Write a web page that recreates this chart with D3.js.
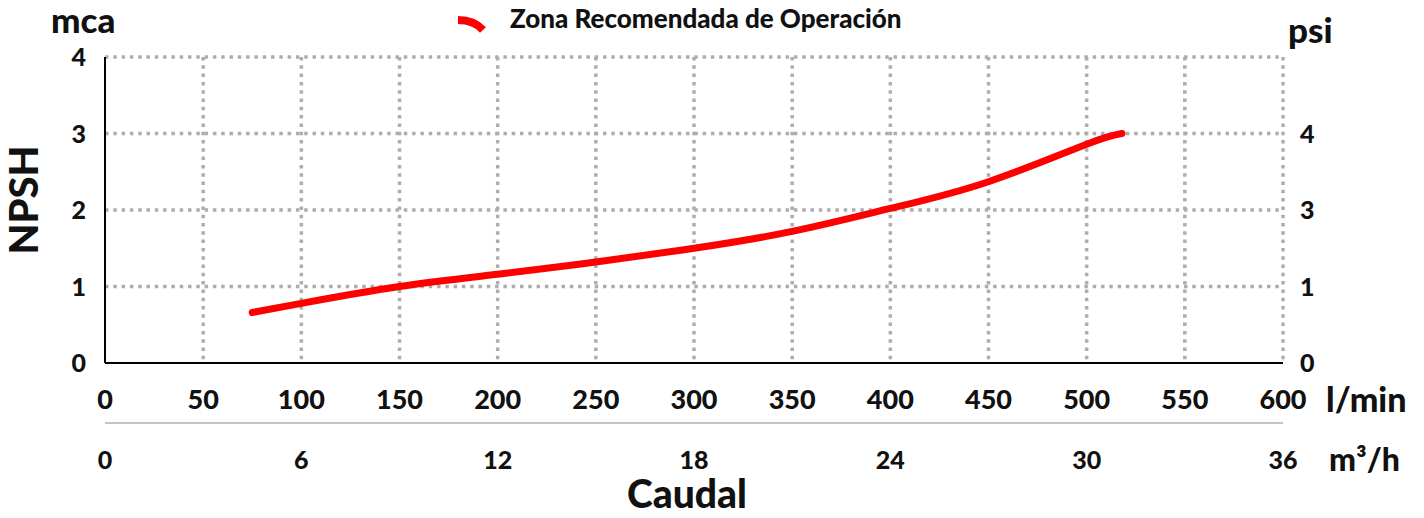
<!DOCTYPE html>
<html>
<head>
<meta charset="utf-8">
<script src="https://cdn.jsdelivr.net/npm/d3@7"></script>
<style>
  body { margin: 0; background: #fff; }
  text { font-family: Lato, "Open Sans", sans-serif; font-weight: 900; fill: #111; }
</style>
</head>
<body>
<svg id="chart" width="1424" height="518"></svg>
<script>
// data
const flowLmin = [75, 100, 150, 200, 250, 300, 350, 400, 450, 500, 518];
const npshMca = [0.66, 0.78, 1.0, 1.16, 1.32, 1.5, 1.72, 2.02, 2.37, 2.86, 3.0];
const xTicks = [0, 50, 100, 150, 200, 250, 300, 350, 400, 450, 500, 550, 600];
const m3hTicks = [0, 6, 12, 18, 24, 30, 36];
const mcaTicks = [0, 1, 2, 3, 4];
const psiLabels = ["0", "1", "3", "4"]; // shown against mca gridlines 0..3

const svg = d3.select("#chart");
const plotLeft = 105, plotRight = 1283, plotTop = 57, plotBottom = 363;

const x = d3.scaleLinear().domain([0, 600]).range([plotLeft, plotRight]);
const x2 = d3.scaleLinear().domain([0, 36]).range([plotLeft, plotRight]);
const y = d3.scaleLinear().domain([0, 4]).range([plotBottom, plotTop]);

//----------------------------------------------------------------------------------
// grid

const grid = svg.append("g")
    .attr("stroke", "#adadad")
    .attr("stroke-width", 3.5)
    .attr("stroke-dasharray", "3.5,4.8");

grid.selectAll(".hgrid")
    .data(mcaTicks.filter(d => d > 0))
    .join("line")
    .attr("x1", plotLeft).attr("x2", plotRight)
    .attr("y1", d => y(d)).attr("y2", d => y(d));

grid.selectAll(".vgrid")
    .data(xTicks.filter(d => d > 0))
    .join("line")
    .attr("x1", d => x(d)).attr("x2", d => x(d))
    .attr("y1", plotTop).attr("y2", plotBottom);

// axis lines
svg.append("line")
    .attr("x1", plotLeft).attr("x2", plotLeft).attr("y1", plotTop).attr("y2", plotBottom)
    .attr("stroke", "#000").attr("stroke-width", 2);
svg.append("line")
    .attr("x1", plotLeft).attr("x2", plotRight).attr("y1", plotBottom).attr("y2", plotBottom)
    .attr("stroke", "#000").attr("stroke-width", 2);
svg.append("line")
    .attr("x1", plotLeft).attr("x2", plotRight).attr("y1", 423).attr("y2", 423)
    .attr("stroke", "#c4c4c4").attr("stroke-width", 2);

//----------------------------------------------------------------------------------
// tick labels

svg.selectAll(".ylab")
    .data(mcaTicks)
    .join("text")
    .attr("x", 86).attr("y", d => y(d) + 9)
    .attr("text-anchor", "end")
    .attr("font-size", 25)
    .text(d => d);

svg.selectAll(".psilab")
    .data(psiLabels)
    .join("text")
    .attr("x", 1300).attr("y", (d, i) => y(i) + 9)
    .attr("font-size", 25)
    .text(d => d);

svg.selectAll(".xlab")
    .data(xTicks)
    .join("text")
    .attr("x", d => x(d)).attr("y", 409)
    .attr("text-anchor", "middle")
    .attr("font-size", 27)
    .text(d => d);

svg.selectAll(".x2lab")
    .data(m3hTicks)
    .join("text")
    .attr("x", d => x2(d)).attr("y", 469)
    .attr("text-anchor", "middle")
    .attr("font-size", 25)
    .text(d => d);

// units and titles
svg.append("text").attr("x", 1326).attr("y", 412).attr("font-size", 34).text("l/min");
svg.append("text").attr("x", 1329).attr("y", 471).attr("font-size", 32).text("m³/h");
svg.append("text").attr("x", 51).attr("y", 33).attr("font-size", 35).text("mca");
svg.append("text").attr("x", 1288).attr("y", 43).attr("font-size", 35).text("psi");
svg.append("text").attr("x", 687).attr("y", 508).attr("text-anchor", "middle")
    .attr("font-size", 39).text("Caudal");
svg.append("text")
    .attr("transform", "translate(38,200) rotate(-90)")
    .attr("text-anchor", "middle")
    .attr("font-size", 40)
    .text("NPSH");

// legend
svg.append("path")
    .attr("d", "M458,20 Q474,20 483,30")
    .attr("fill", "none").attr("stroke", "#ff0000").attr("stroke-width", 8);
svg.append("text").attr("x", 510).attr("y", 28).attr("font-size", 26).text("Zona Recomendada de Operación");

//----------------------------------------------------------------------------------
// curve

const line = d3.line()
    .x((d, i) => x(flowLmin[i]))
    .y(d => y(d))
    .curve(d3.curveNatural);

svg.append("path")
    .datum(npshMca)
    .attr("d", line)
    .attr("fill", "none")
    .attr("stroke", "#ff0000")
    .attr("stroke-width", 7)
    .attr("stroke-linecap", "round");
</script>
</body>
</html>
